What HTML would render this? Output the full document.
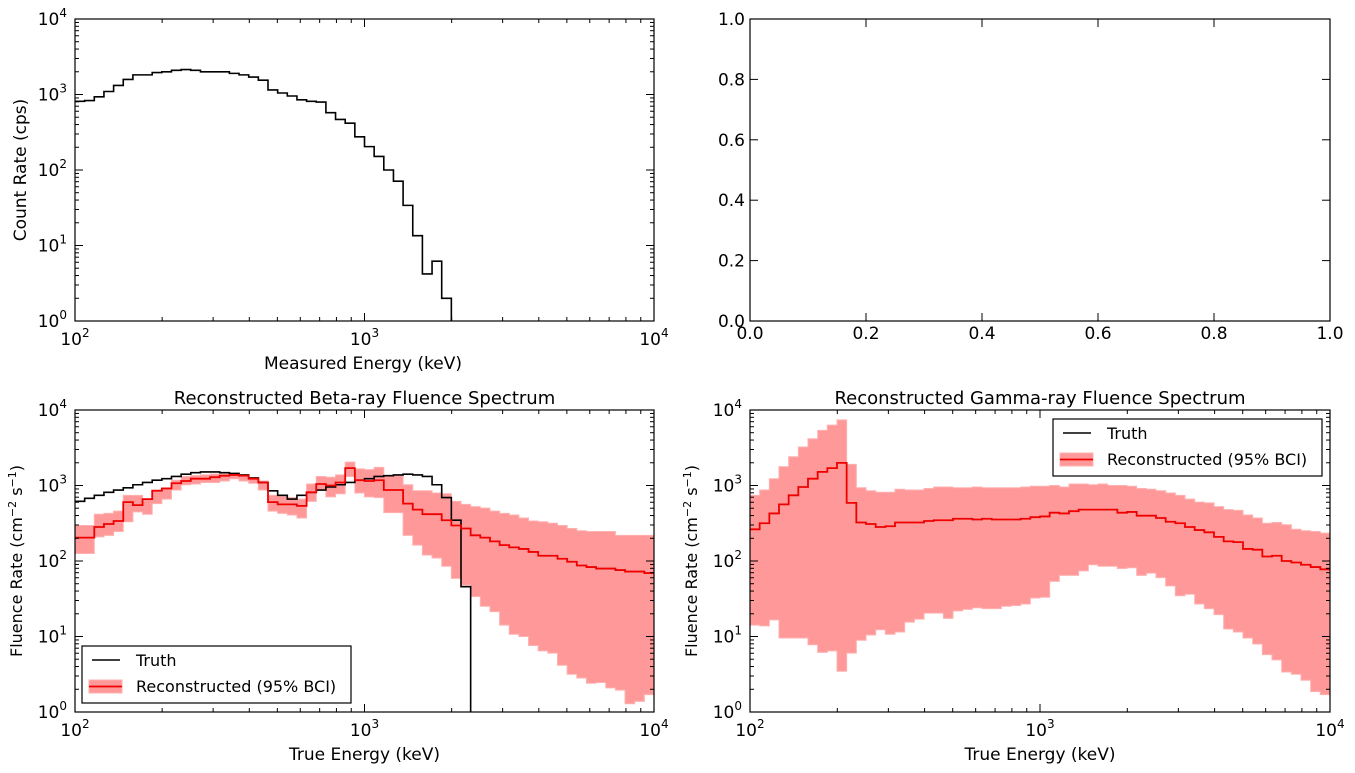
<!DOCTYPE html>
<html><head><meta charset="utf-8"><style>
body{margin:0;background:#fff;}
svg{display:block;font-family:"DejaVu Sans","Liberation Sans",sans-serif;}
</style></head><body>
<svg id="fig" width="1355" height="773" viewBox="0 0 1355 773" xmlns="http://www.w3.org/2000/svg"></svg>
<script>
// ---- data (bins: 60 log-spaced bins from 100 to 10000 keV, 30 per decade) ----
const measuredCounts = [813,830,933,1096,1318,1585,1820,1820,1950,1995,2089,2138,2089,1995,1995,1995,1905,1820,1700,1549,1148,1047,955,851,813,794,575,468,417,275,204,151,100,71,34,13.5,4.2,6.2,2.0];
// log10 of fluence rate
const betaTruthLog = [2.79,2.83,2.87,2.91,2.94,2.97,3.01,3.04,3.07,3.09,3.12,3.15,3.17,3.18,3.18,3.17,3.16,3.14,3.10,3.04,2.93,2.87,2.82,2.87,2.91,2.94,2.98,3.01,3.04,3.07,3.09,3.12,3.13,3.14,3.15,3.14,3.12,3.01,2.84,2.54,1.66];
const betaMedianLog = [2.31,2.31,2.45,2.49,2.53,2.78,2.74,2.82,2.93,2.96,3.03,3.06,3.09,3.09,3.11,3.13,3.14,3.13,3.09,3.04,2.78,2.75,2.75,2.73,2.91,3.02,3.00,3.04,3.23,3.07,3.06,3.07,2.94,2.94,2.76,2.68,2.62,2.62,2.54,2.47,2.43,2.34,2.31,2.26,2.21,2.18,2.16,2.12,2.07,2.07,2.03,1.99,1.94,1.92,1.90,1.90,1.88,1.86,1.86,1.84];
const betaUpperLog = [2.47,2.47,2.62,2.63,2.66,2.87,2.87,2.82,2.94,2.97,3.07,3.12,3.13,3.14,3.15,3.15,3.16,3.12,3.10,3.06,2.87,2.86,2.84,2.82,3.02,3.12,3.11,3.14,3.31,3.22,3.21,3.24,3.13,3.13,3.01,2.93,2.93,2.90,2.89,2.79,2.75,2.72,2.70,2.66,2.63,2.61,2.57,2.53,2.52,2.50,2.47,2.43,2.40,2.39,2.39,2.39,2.34,2.34,2.34,2.34];
const betaLowerLog = [2.10,2.10,2.32,2.34,2.39,2.52,2.65,2.62,2.76,2.82,2.94,3.01,3.02,3.04,3.04,3.06,3.09,3.06,3.03,2.94,2.66,2.63,2.61,2.57,2.79,2.94,2.85,2.89,3.12,2.90,2.85,2.84,2.64,2.64,2.34,2.21,2.08,2.04,1.93,1.77,1.68,1.53,1.40,1.33,1.15,1.03,1.00,0.88,0.81,0.78,0.62,0.50,0.45,0.38,0.39,0.32,0.29,0.11,0.14,0.23];
const gammaMedianLog = [2.42,2.50,2.63,2.75,2.87,2.98,3.09,3.18,3.23,3.30,2.77,2.51,2.49,2.45,2.46,2.51,2.51,2.51,2.53,2.54,2.54,2.56,2.56,2.55,2.56,2.55,2.55,2.55,2.56,2.58,2.59,2.64,2.63,2.66,2.68,2.68,2.68,2.68,2.64,2.65,2.60,2.60,2.57,2.52,2.50,2.45,2.41,2.38,2.32,2.26,2.25,2.16,2.15,2.06,2.07,2.00,1.98,1.95,1.92,1.89];
const gammaUpperLog = [2.87,2.94,3.09,3.25,3.38,3.51,3.62,3.73,3.80,3.87,3.28,2.97,2.93,2.91,2.91,2.95,2.94,2.94,2.96,2.98,2.98,2.97,2.97,2.98,2.97,2.97,2.97,2.97,2.98,2.99,2.99,3.00,2.98,3.02,3.02,3.01,3.02,3.00,3.00,2.99,2.96,2.95,2.93,2.90,2.87,2.82,2.78,2.77,2.72,2.68,2.67,2.61,2.57,2.50,2.51,2.48,2.42,2.40,2.39,2.37];
const gammaLowerLog = [1.15,1.14,1.22,0.98,0.98,0.98,0.89,0.79,0.81,0.54,0.78,0.95,1.02,1.09,1.03,1.06,1.19,1.23,1.31,1.31,1.24,1.34,1.36,1.38,1.37,1.37,1.40,1.41,1.43,1.51,1.52,1.73,1.81,1.81,1.87,1.95,1.93,1.93,1.90,1.91,1.81,1.84,1.78,1.67,1.54,1.56,1.43,1.37,1.29,1.10,1.06,0.98,0.90,0.76,0.69,0.53,0.50,0.42,0.27,0.23];
const binsPerDecade = 30;
const linTicks = ["0.0","0.2","0.4","0.6","0.8","1.0"];

const NS = "http://www.w3.org/2000/svg";
const svg = document.getElementById('fig');
function mk(tag, attrs, parent){ const e=document.createElementNS(NS,tag); for(const k in attrs) e.setAttribute(k,attrs[k]); (parent||svg).appendChild(e); return e; }

const panels = {
  tl:{x0:75,x1:654,y0:19,y1:321},
  tr:{x0:750,x1:1330,y0:19,y1:321},
  bl:{x0:75,x1:654,y0:410,y1:712},
  br:{x0:750,x1:1330,y0:410,y1:712}
};
function xs(p, e){ return p.x0 + (e-2)/2*(p.x1-p.x0); }
function ys(p, l){ return p.y1 - (l-0)/4*(p.y1-p.y0); }
function edge(i){ return 2 + i/binsPerDecade; }

function stepPath(p, logs, dropToBottom){
  let d = '';
  logs.forEach((l,i)=>{
    const xa=xs(p,edge(i)), xb=xs(p,edge(i+1)), y=ys(p,Math.max(l,-1));
    d += (i===0?`M${xa},${y}`:`V${y}`) + `H${xb}`;
  });
  if(dropToBottom) d += `V${p.y1+2}`;
  return d;
}
function bandPath(p, up, lo){
  let d='';
  up.forEach((l,i)=>{ const y=ys(p,l); d += (i===0?`M${xs(p,edge(0))},${y}`:`V${y}`)+`H${xs(p,edge(i+1))}`; });
  for(let i=lo.length-1;i>=0;i--){ d += `V${ys(p,lo[i])}H${xs(p,edge(i))}`; }
  return d+'Z';
}

function logAxes(p, name){
  const g = mk('g',{});  
  for(let dec=2; dec<=4; dec++){
    for(let m=1;m<=9;m++){
      const e = dec+Math.log10(m); if(e>4.0001) break;
      const x = xs(p,e), L = m===1?8:4;
      mk('line',{x1:x,x2:x,y1:p.y1,y2:p.y1-L,stroke:'#000','stroke-width':1},g);
      mk('line',{x1:x,x2:x,y1:p.y0,y2:p.y0+L,stroke:'#000','stroke-width':1},g);
      if(m===1){
        const t=mk('text',{x:x,y:p.y1+24,'text-anchor':'middle','font-size':17},g);
         
        t.innerHTML = `10<tspan dy="-8" font-size="12">${dec}</tspan>`;
      }
    }
  }
  for(let dec=0; dec<=4; dec++){
    for(let m=1;m<=9;m++){
      const e = dec+Math.log10(m); if(e>4.0001) break;
      const y = ys(p,e), L = m===1?8:4;
      mk('line',{x1:p.x0,x2:p.x0+L,y1:y,y2:y,stroke:'#000','stroke-width':1},g);
      mk('line',{x1:p.x1,x2:p.x1-L,y1:y,y2:y,stroke:'#000','stroke-width':1},g);
      if(m===1){
        const t=mk('text',{x:p.x0-8,y:y+6,'text-anchor':'end','font-size':17},g);
         
        t.innerHTML = `10<tspan dy="-8" font-size="12">${dec}</tspan>`;
      }
    }
  }
}
function frame(p,name){
  const r=mk('rect',{x:p.x0,y:p.y0,width:p.x1-p.x0,height:p.y1-p.y0,fill:'none',stroke:'#000','stroke-width':1.2});
   
}
function label(x,y,txt,name,rot,size){
  const t=mk('text',{x:x,y:y,'text-anchor':'middle','font-size':size||17});
  if(rot) t.setAttribute('transform',`rotate(-90 ${x} ${y})`);
   
  t.innerHTML=txt; return t;
}
function clipFor(p,id){
  const cp=mk('clipPath',{id:id}); mk('rect',{x:p.x0,y:p.y0,width:p.x1-p.x0,height:p.y1-p.y0},cp);
  return `url(#${id})`;
}

{
  const p=panels.tl;
  const measLog = measuredCounts.map(v=>Math.log10(v));
  const path=mk('path',{d:stepPath(p,measLog,true),fill:'none',stroke:'#000','stroke-width':1.6,'clip-path':clipFor(p,'c1')});
   
  logAxes(p,'measured'); frame(p,'measured');
  label(363,369,'Measured Energy (keV)','x-axis-title');
  label(26,170,'Count Rate (cps)','y-axis-title',true);
}
{
  const p=panels.tr;
  const g=mk('g',{});  
  linTicks.forEach((lab,i)=>{
    const f=i/(linTicks.length-1);
    const x=p.x0+f*(p.x1-p.x0), y=p.y1-f*(p.y1-p.y0);
    mk('line',{x1:x,x2:x,y1:p.y1,y2:p.y1-8,stroke:'#000'},g);
    mk('line',{x1:x,x2:x,y1:p.y0,y2:p.y0+8,stroke:'#000'},g);
    mk('line',{x1:p.x0,x2:p.x0+8,y1:y,y2:y,stroke:'#000'},g);
    mk('line',{x1:p.x1,x2:p.x1-8,y1:y,y2:y,stroke:'#000'},g);
    const tx=mk('text',{x:x,y:p.y1+18,'text-anchor':'middle','font-size':17},g); tx.textContent=lab;
     
    const ty=mk('text',{x:p.x0-5,y:y+6,'text-anchor':'end','font-size':17},g); ty.textContent=lab;
     
  });
  frame(p,'empty');
}
function fluencePanel(p, id, title, truth, med, up, lo, legendPos){
  const clip=clipFor(p,id);
  const band=mk('path',{d:bandPath(p,up,lo),fill:'#ff9999',stroke:'#ffb0b0','stroke-width':1,'clip-path':clip});
   
  if(truth){
    const tl=mk('path',{d:stepPath(p,truth,true),fill:'none',stroke:'#000','stroke-width':1.6,'clip-path':clip});
     
  }
  const ml=mk('path',{d:stepPath(p,med,false),fill:'none',stroke:'#ee0000','stroke-width':1.8,'clip-path':clip});
   
  logAxes(p,id); frame(p,id);
  label((p.x0+p.x1)/2,p.y0-6,title,id+'-title',false,18);
  label((p.x0+p.x1)/2,p.y1+48,'True Energy (keV)','x-axis-title');
  label(p.x0-53,(p.y0+p.y1)/2,'Fluence Rate (cm<tspan dy="-6" font-size="11">−2</tspan><tspan dy="6"> s</tspan><tspan dy="-6" font-size="11">−1</tspan><tspan dy="6">)</tspan>','y-axis-title',true,16);
  const [lx,ly]=legendPos;
  const lg=mk('g',{});  
  mk('rect',{x:lx,y:ly,width:269,height:57,fill:'#fff',stroke:'#000','stroke-width':1.2},lg);
  mk('line',{x1:lx+10,x2:lx+38,y1:ly+14,y2:ly+14,stroke:'#000','stroke-width':1.6},lg);
  const t1=mk('text',{x:lx+54,y:ly+20,'font-size':16},lg); t1.textContent='Truth';
   
  mk('rect',{x:lx+7,y:ly+34,width:33,height:13,fill:'#ff9999',stroke:'#ffb0b0'},lg);
  mk('line',{x1:lx+7,x2:lx+40,y1:ly+40.5,y2:ly+40.5,stroke:'#ee0000','stroke-width':1.8},lg);
  const t2=mk('text',{x:lx+54,y:ly+46,'font-size':16},lg); t2.textContent='Reconstructed (95% BCI)';
   
}
fluencePanel(panels.bl,'beta','Reconstructed Beta-ray Fluence Spectrum',betaTruthLog,betaMedianLog,betaUpperLog,betaLowerLog,[82,646]);
fluencePanel(panels.br,'gamma','Reconstructed Gamma-ray Fluence Spectrum',null,gammaMedianLog,gammaUpperLog,gammaLowerLog,[1053,419]);
</script>
</body></html>
